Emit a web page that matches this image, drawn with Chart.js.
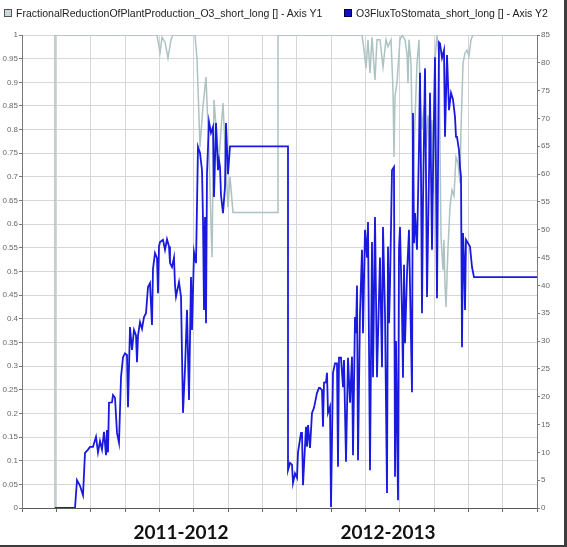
<!DOCTYPE html>
<html>
<head>
<meta charset="utf-8">
<script src="https://cdn.jsdelivr.net/npm/chart.js@4.4.1/dist/chart.umd.min.js"></script>
<style>
  html, body { margin: 0; padding: 0; background: #fff; }
  #frame { position: relative; width: 564px; height: 545px; border-right: 3px solid #3c3c3c; border-bottom: 2px solid #3c3c3c; }
  #chart { position: absolute; left: 0; top: 0; }
  #legend { position: absolute; left: 0; top: 7px; width: 564px; height: 14px; font: 10.5px "Liberation Sans", Arial, sans-serif; color: #222; }
  .item { position: absolute; top: 0; white-space: nowrap; }
  .box { display: inline-block; width: 6px; height: 6px; border: 1px solid #555; margin-right: 4px; vertical-align: 0px; }
</style>
</head>
<body>
<div id="frame">
  <canvas id="chart" width="564" height="545"></canvas>
  <div id="legend"></div>
</div>
<script>
const seriesNames = [
  'FractionalReductionOfPlantProduction_O3_short_long [] - Axis Y1',
  'O3FluxToStomata_short_long [] - Axis Y2',
];
const seasonLabels = ['2011-2012', '2012-2013'];
const seasonCentres = [159, 366];

// Y1: fractional reduction (0..1)
const fracDays = [
  33, 33, 135, 138, 140, 143, 146, 149, 151,
  173, 175, 178, 181, 184, 187, 190, 192, 195, 197, 199, 201, 204, 206, 208, 211,
  256, 256,
  340, 342, 344, 346, 348, 350, 353, 355, 358, 361, 364, 366, 369, 371, 372, 373, 375, 378, 380, 383, 385, 386, 387, 389, 391, 393, 395, 397,
  398, 400, 402, 404, 406, 408, 410, 411, 413, 415, 417,
  419, 421, 422, 423, 424, 426, 428, 430, 432, 434, 436, 438, 439, 441, 443, 445, 447, 449, 451, 515,
];
const fracValues = [
  0, 1, 1, 0.962, 0.995, 0.985, 0.951, 0.99, 1,
  1, 0.95, 0.763, 0.85, 0.911, 0.75, 0.53, 0.863, 0.78, 0.736, 0.8, 0.856, 0.72, 0.636, 0.70, 0.625,
  0.625, 1,
  1, 0.968, 0.93, 0.99, 0.92, 0.995, 0.905, 0.99, 0.99, 0.932, 0.99, 0.975, 0.99, 0.884, 0.742, 0.869, 0.90, 0.99, 1, 0.99, 0.96, 0.898, 0.99, 0.94, 0.693, 0.82, 0.94, 0.99,
  0.88, 0.80, 0.85, 0.76, 0.83, 0.736, 0.82, 0.666, 0.95, 1, 0.95,
  0.573, 0.503, 0.567, 0.47, 0.425, 0.55, 0.636, 0.672, 0.66, 0.742, 0.73, 0.687, 0.80, 0.94, 0.962, 0.968, 0.955, 0.99, 1, 1,
];

// Y2: O3 flux to stomata (0..85)
const fluxDays = [
  33, 53, 55, 58, 61, 63, 66, 68, 71, 74, 76, 78, 80, 82, 84, 85, 86, 87, 90, 91,
  93, 95, 97, 99, 101, 103, 105, 106, 108, 110, 112, 114, 115, 116, 118, 120, 122, 124, 126, 128,
  130, 131, 133, 135, 136, 137, 138, 141, 143, 145, 147, 148, 150, 152, 153, 154, 157, 159, 161, 163,
  165, 167, 169, 170, 172, 174, 176, 178, 180, 181, 182, 183, 184, 185, 187, 189, 191, 192, 194, 196,
  197, 198, 199, 201, 203, 204, 206, 208, 211, 266,
  266, 268, 270, 271, 273, 275, 276, 279, 280, 281, 284, 285, 286, 288, 290, 292, 295, 297, 298, 300,
  301, 302, 304, 305, 306, 308, 309, 311, 313, 315, 316, 317, 319, 321, 322, 324, 326, 328, 330, 331,
  333, 334, 335, 336, 338, 340, 341, 343, 345, 346, 348, 350, 351, 353, 355, 358, 360, 361, 363, 365,
  366, 367, 368, 370, 372, 373, 374, 376, 377, 378, 380, 381, 382, 383, 385, 387, 388, 390, 391, 392,
  393, 395, 397, 398, 399, 400, 401, 403, 404, 405, 407, 408, 410, 411, 413, 414, 415, 417, 418, 420,
  422, 423, 425, 427, 429, 431, 433, 434, 435, 437, 438, 439, 440, 441, 442, 443, 444, 446, 448, 450,
  452, 515,
];
const fluxValues = [
  0, 0, 5, 4, 2.3, 9.9, 10.5, 11, 11, 12.8, 10, 12, 10.5, 13.7, 9.5, 14, 10, 18.9, 19, 20.3,
  19.8, 13.5, 11.7, 23.5, 27.1, 27.8, 27.5, 18.1, 32.5, 28.4, 32, 31, 26.2, 31, 33.4, 32.2, 34.3, 35, 39.7, 40.4,
  32.9, 43, 45.8, 44.9, 38.6, 47, 47.8, 48.2, 46.4, 48.3, 47, 44, 43.3, 45, 40, 38, 40.6, 38, 17.1, 25,
  35.6, 19.4, 41.5, 32, 46, 44, 64.9, 63.8, 60.7, 51.8, 35.6, 52.3, 33.2, 60.2, 69.4, 67.4, 68.5, 55.9, 69.2, 60.7,
  62.5, 61.3, 56.2, 53, 57.7, 69.2, 60, 65, 65, 65,
  6.8, 8.1, 7.8, 4.5, 6.2, 5.4, 10, 13.5, 13.5, 4.1, 14.6, 11, 14.9, 10.8, 17.1, 18, 20.7, 21.6, 21.6, 21.2,
  14.6, 22.5, 22.6, 24.3, 17.1, 18.2, 0.2, 24.3, 26, 26, 7.4, 27, 27, 21.7, 26.6, 8.3, 27, 18.9, 27.2, 9.5,
  34.3, 31.4, 40, 8.6, 35, 46.4, 31.4, 50, 45, 51.4, 6.8, 47.8, 23.5, 52.3, 23.5, 45, 25.3, 50.5, 35, 2.7,
  47, 33.2, 40, 60.7, 61.3, 5.6, 30, 1.4, 46.7, 50.5, 35, 23.4, 43.7, 29.6, 42, 50, 40, 20.8, 71, 47.6,
  53, 46.4, 65, 78.2, 60, 35, 55, 79, 60, 37.9, 60, 74.6, 46.4, 60, 81, 60, 37.7, 83.7, 83.5, 80.9,
  82.3, 66.7, 81.4, 71.5, 74.6, 73.4, 70.3, 66.7, 66.7, 64.3, 61.3, 59.5, 28.9, 49.4, 45, 35.6, 48.2, 47.6, 47, 43.3,
  41.5, 41.5,
];

const X_MAX = 515;
const GRID = '#d6d6d6';
const AXIS = '#7a7a7a';
const COLORS = {
  frac: '#adc2c2',
  fracBox: '#cfd8d8',
  flux: '#1a1ade',
  fluxBox: '#1010c0',
};

// legend (html, so the two items sit where the original has them)
const legend = document.getElementById('legend');
[[seriesNames[0], COLORS.fracBox, '#555', 4], [seriesNames[1], COLORS.fluxBox, '#000050', 344]].forEach(([name, fill, edge, left]) => {
  const item = document.createElement('span');
  item.className = 'item';
  item.style.left = left + 'px';
  item.innerHTML = '<span class="box" style="background:' + fill + ';border-color:' + edge + '"></span>';
  item.appendChild(document.createTextNode(name));
  legend.appendChild(item);
});

const toPoints = (xs, ys) => xs.map((x, i) => ({ x: x, y: ys[i] }));

new Chart(document.getElementById('chart'), {
  type: 'line',
  data: {
    datasets: [
      {
        label: seriesNames[0],
        data: toPoints(fracDays, fracValues),
        yAxisID: 'y',
        xAxisID: 'x',
        borderColor: COLORS.frac,
        borderWidth: 1.5,
        pointRadius: 0,
        tension: 0,
        order: 1,
      },
      {
        label: seriesNames[1],
        data: toPoints(fluxDays, fluxValues),
        yAxisID: 'y2',
        xAxisID: 'x',
        borderColor: COLORS.flux,
        borderWidth: 1.8,
        pointRadius: 0,
        tension: 0,
        order: 0,
      },
    ],
  },
  options: {
    responsive: false,
    animation: false,
    events: [],
    layout: { padding: { top: 35, left: 0, right: 0, bottom: 0 } },
    plugins: { legend: { display: false }, tooltip: { enabled: false } },
    scales: {
      x: {
        type: 'linear',
        position: 'bottom',
        weight: 0,
        min: 0,
        max: X_MAX,
        afterBuildTicks: axis => {
          axis.ticks = Array.from({ length: 16 }, (_, i) => ({ value: i * X_MAX / 15 }));
        },
        ticks: { display: false },
        grid: { color: GRID, tickColor: '#666', tickLength: 4 },
        border: { display: true, color: '#5a5a5a' },
        afterFit: axis => { axis.height = 5; },
      },
      xs: {
        type: 'linear',
        position: 'bottom',
        weight: 1,
        min: 0,
        max: X_MAX,
        afterBuildTicks: axis => {
          axis.ticks = seasonCentres.map(v => ({ value: v }));
        },
        ticks: {
          autoSkip: false,
          maxRotation: 0,
          padding: 8,
          color: '#111',
          font: { family: 'Lato', size: 19, weight: 'bold' },
          callback: (v, i) => seasonLabels[i],
        },
        grid: { display: false, drawTicks: false },
        border: { display: false },
        afterFit: axis => { axis.height = 32; },
      },
      y: {
        position: 'left',
        min: 0,
        max: 1,
        ticks: {
          stepSize: 0.05,
          padding: 1,
          color: '#666',
          font: { family: 'Liberation Sans', size: 8 },
          callback: v => String(+v.toFixed(2)),
        },
        grid: { color: GRID, tickColor: AXIS, tickLength: 3 },
        border: { display: true, color: AXIS },
        afterFit: axis => { axis.width = 22; },
      },
      y2: {
        position: 'right',
        min: 0,
        max: 85,
        ticks: {
          stepSize: 5,
          padding: 1,
          color: '#666',
          font: { family: 'Liberation Sans', size: 8 },
        },
        grid: { drawOnChartArea: false, tickColor: AXIS, tickLength: 3 },
        border: { display: true, color: AXIS },
        afterFit: axis => { axis.width = 27; },
      },
    },
  },
});
</script>
</body>
</html>
